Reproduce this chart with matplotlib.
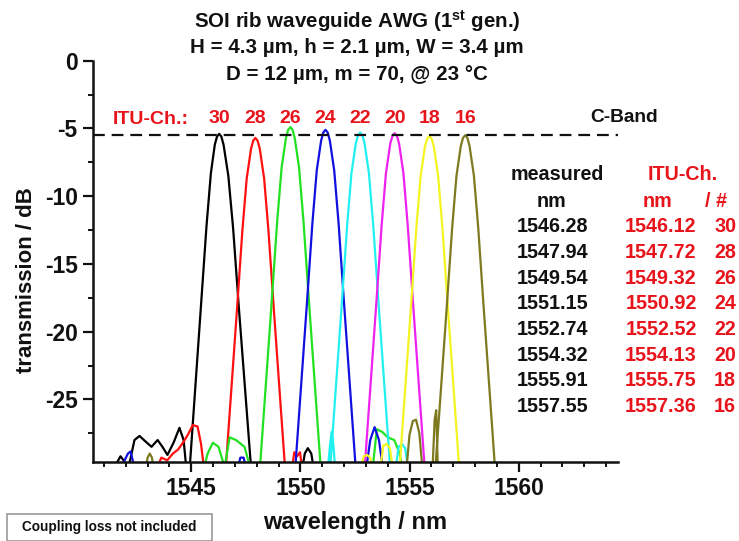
import matplotlib
matplotlib.use("Agg")
import matplotlib.pyplot as plt
from matplotlib.ticker import MultipleLocator
from matplotlib.patches import Rectangle

plt.rcParams['font.family'] = ['Liberation Sans', 'DejaVu Sans']
plt.rcParams['font.weight'] = 'bold'
plt.rcParams['axes.unicode_minus'] = False
plt.rcParams['mathtext.fontset'] = 'custom'
plt.rcParams['mathtext.rm'] = 'Liberation Sans:bold'
plt.rcParams['mathtext.bf'] = 'Liberation Sans:bold'
plt.rcParams['mathtext.it'] = 'Liberation Sans:bold'

W, H = 739, 541

# ---- measured AWG channel spectra (wavelength in nm, transmission in dB) ----
ch30_wl = [1541.5, 1541.62, 1541.76, 1541.9, 1542.05, 1542.2, 1542.4, 1542.63, 1542.9, 1543.18,
           1543.46, 1543.68, 1543.91, 1544.19, 1544.46, 1544.65, 1544.8,
           1544.95, 1545.2, 1545.45, 1545.7, 1545.9, 1546.08, 1546.18, 1546.28, 1546.38, 1546.48,
           1546.7, 1546.92, 1547.18, 1547.45, 1547.72, 1547.9,
           1550.05, 1550.2, 1550.34, 1550.5, 1550.65]
ch30_db = [-30.2, -29.6, -29.2, -29.5, -30.2, -29.5, -28.0, -27.7, -28.1, -28.5,
           -28.0, -28.5, -29.1, -28.2, -27.1, -28.0, -30.5,
           -29.6, -23.8, -18.0, -12.2, -8.3, -6.2, -5.6, -5.4, -5.6, -6.2,
           -8.5, -12.4, -18.2, -23.9, -29.6, -33.0,
           -30.5, -29.0, -28.6, -29.0, -30.5]

ch28_wl = [1543.4, 1543.63, 1543.9, 1544.16, 1544.4, 1544.62, 1544.85, 1545.07, 1545.29, 1545.45, 1545.6,
           1546.44, 1546.59, 1546.84, 1547.09, 1547.34, 1547.54, 1547.74, 1547.84, 1547.94, 1548.04,
           1548.14, 1548.34, 1548.54, 1548.79, 1549.04, 1549.29, 1549.44,
           1549.6, 1549.72, 1549.85, 1549.98, 1550.1]
ch28_db = [-30.2, -29.3, -29.5, -29.0, -28.7, -28.2, -27.6, -26.9, -27.0, -28.3, -30.3,
           -33.4, -29.9, -24.2, -18.5, -12.6, -8.7, -6.5, -5.9, -5.7, -5.9,
           -6.5, -8.7, -12.6, -18.5, -24.2, -29.9, -33.4,
           -30.3, -28.9, -29.2, -28.9, -30.3]

ch26_wl = [1545.55, 1545.75, 1545.99, 1546.25, 1546.53, 1546.76, 1547.05, 1547.44, 1547.75,
           1548.04, 1548.19, 1548.44, 1548.69, 1548.94, 1549.14, 1549.34, 1549.44, 1549.54, 1549.64,
           1549.74, 1549.94, 1550.14, 1550.39, 1550.64, 1550.89, 1551.04,
           1553.3, 1553.5, 1553.75, 1554.0, 1554.3, 1554.55, 1554.7]
ch26_db = [-30.3, -29.0, -28.2, -28.5, -30.0, -27.8, -28.0, -28.5, -30.3,
           -32.6, -29.1, -23.4, -17.7, -11.8, -7.9, -5.7, -5.1, -4.9, -5.1,
           -5.7, -7.9, -11.8, -17.7, -23.4, -29.1, -32.6,
           -30.3, -27.2, -27.4, -27.8, -28.0, -29.0, -30.3]

ch24_wl = [1541.85, 1541.95, 1542.1, 1542.22, 1542.35, 1542.45,
           1547.1, 1547.25, 1547.4, 1547.55,
           1549.65, 1549.8, 1550.05, 1550.3, 1550.55, 1550.75, 1550.95, 1551.05, 1551.15, 1551.25,
           1551.35, 1551.55, 1551.75, 1552.0, 1552.25, 1552.5, 1552.65,
           1553.0, 1553.2, 1553.4, 1553.6, 1553.8]
ch24_db = [-30.3, -29.5, -29.0, -28.85, -29.7, -30.3,
           -30.3, -29.3, -29.3, -30.3,
           -32.8, -29.3, -23.6, -17.9, -12.0, -8.1, -5.9, -5.3, -5.1, -5.3,
           -5.9, -8.1, -12.0, -17.9, -23.6, -29.3, -32.8,
           -30.3, -28.0, -27.05, -28.0, -30.3]

ch22_wl = [1551.25, 1551.35, 1551.43, 1551.52, 1551.6,
           1551.24, 1551.39, 1551.64, 1551.89, 1552.14, 1552.34, 1552.54, 1552.64, 1552.74, 1552.84,
           1552.94, 1553.14, 1553.34, 1553.59, 1553.84, 1554.09, 1554.24,
           1554.35, 1554.5, 1554.65, 1554.8, 1554.95]
ch22_db = [-30.3, -28.5, -27.4, -28.5, -30.3,
           -33.0, -29.5, -23.8, -18.1, -12.2, -8.3, -6.1, -5.5, -5.3, -5.5,
           -6.1, -8.3, -12.2, -18.1, -23.8, -29.5, -33.0,
           -30.3, -28.5, -28.3, -28.6, -30.3]

ch20_wl = [1552.82, 1552.97, 1553.22, 1553.47, 1553.72, 1553.92, 1554.12, 1554.22, 1554.32, 1554.42,
           1554.52, 1554.72, 1554.92, 1555.17, 1555.42, 1555.67, 1555.82]
ch20_db = [-33.0, -29.5, -23.8, -18.1, -12.2, -8.3, -6.1, -5.55, -5.35, -5.55,
           -6.1, -8.3, -12.2, -18.1, -23.8, -29.5, -33.0]

ch18_wl = [1552.75, 1552.9, 1553.05, 1553.2, 1553.3,
           1553.65, 1553.8, 1553.95, 1554.1, 1554.25,
           1554.41, 1554.56, 1554.81, 1555.06, 1555.31, 1555.51, 1555.71, 1555.81, 1555.91, 1556.01,
           1556.11, 1556.31, 1556.51, 1556.76, 1557.01, 1557.26, 1557.41]
ch18_db = [-30.3, -29.2, -29.1, -29.3, -30.3,
           -30.3, -28.4, -28.3, -28.6, -30.3,
           -33.2, -29.7, -24.0, -18.3, -12.4, -8.5, -6.3, -5.75, -5.55, -5.75,
           -6.3, -8.5, -12.4, -18.3, -24.0, -29.7, -33.2]

ch16_wl = [1542.9, 1543.0, 1543.1, 1543.2, 1543.3,
           1554.85, 1555.0, 1555.15, 1555.3, 1555.45, 1555.6,
           1556.05, 1556.15, 1556.22, 1556.3,
           1556.05, 1556.2, 1556.45, 1556.7, 1556.95, 1557.15, 1557.35, 1557.45, 1557.55, 1557.65,
           1557.75, 1557.95, 1558.15, 1558.4, 1558.65, 1558.9, 1559.05]
ch16_db = [-30.3, -29.3, -29.0, -29.3, -30.3,
           -30.3, -27.6, -26.6, -26.5, -27.5, -30.3,
           -30.3, -26.5, -25.8, -30.3,
           -33.2, -29.7, -24.0, -18.3, -12.4, -8.5, -6.3, -5.7, -5.5, -5.7,
           -6.3, -8.5, -12.4, -18.3, -24.0, -29.7, -33.2]

channel_numbers = ["30", "28", "26", "24", "22", "20", "18", "16"]
measured_nm = ["1546.28", "1547.94", "1549.54", "1551.15", "1552.74", "1554.32", "1555.91", "1557.55"]
itu_nm = ["1546.12", "1547.72", "1549.32", "1550.92", "1552.52", "1554.13", "1555.75", "1557.36"]
peak_wl = [1546.28, 1547.94, 1549.54, 1551.15, 1552.74, 1554.32, 1555.91, 1557.55]

c_band_level = -5.5

spectra = [(ch30_wl, ch30_db, "#000000"),
           (ch28_wl, ch28_db, "#ff1010"),
           (ch26_wl, ch26_db, "#22e022"),
           (ch24_wl, ch24_db, "#1010e0"),
           (ch22_wl, ch22_db, "#20f0f0"),
           (ch20_wl, ch20_db, "#ee22ee"),
           (ch18_wl, ch18_db, "#f4f420"),
           (ch16_wl, ch16_db, "#7d7a20")]

RED = "#e8141c"
DARK = "#111111"

fig = plt.figure(figsize=(W / 100, H / 100), dpi=100)
ax = fig.add_axes([93 / W, 1 - 461.7 / H, (618 - 93) / W, (461.7 - 60.7) / H])

for wl, db, col in spectra:
    ax.plot(wl, db, color=col, lw=1.6, solid_joinstyle='round', clip_on=True)

ax.axhline(c_band_level, color=DARK, lw=1.6, ls=(0, (5.3, 3.1)))

ax.set_xlim(1540.5, 1564.55)
ax.set_ylim(-29.6, 0)
ax.xaxis.set_major_locator(MultipleLocator(5))
ax.xaxis.set_minor_locator(MultipleLocator(1))
ax.yaxis.set_major_locator(MultipleLocator(5))
ax.yaxis.set_minor_locator(MultipleLocator(2.5))
for s in ("top", "right"):
    ax.spines[s].set_visible(False)
for s in ("left", "bottom"):
    ax.spines[s].set_linewidth(1.8)
    ax.spines[s].set_color(DARK)
ax.tick_params(which='major', length=7, width=1.6, color=DARK, labelsize=16.5, pad=4)
ax.tick_params(which='minor', length=3.5, width=1.4, color=DARK)
ax.set_xticks([1545, 1550, 1555, 1560])
ax.set_yticks([0, -5, -10, -15, -20, -25])
for lab in ax.get_xticklabels() + ax.get_yticklabels():
    lab.set_fontweight('bold')
    lab.set_color(DARK)


def px(x, y):
    return x / W, 1 - y / H


# axis titles
fig.text(*px(355.5, 522), "wavelength / nm", ha='center', va='center', fontsize=17,
         fontweight='bold', color=DARK)
fig.text(*px(27, 280), "transmission / dB", ha='center', va='center', rotation=90,
         fontsize=16, fontweight='bold', color=DARK)

# title block
title_lines = [r"SOI rib waveguide AWG (1$^{\mathrm{st}}$ gen.)",
               "H = 4.3 µm, h = 2.1 µm, W = 3.4 µm",
               "D = 12 µm, m = 70, @ 23 °C"]
for i, t in enumerate(title_lines):
    fig.text(*px(357, 21 + 26.8 * i), t, ha='center', va='center', fontsize=14.8,
             fontweight='bold', color=DARK)

# channel labels above the peaks
fig.text(*px(113, 119), "ITU-Ch.:", ha='left', va='center', fontsize=14,
         fontweight='bold', color=RED)
for wl, n in zip(peak_wl, channel_numbers):
    ax.text(wl, -4.3, n, ha='center', va='center', fontsize=14, fontweight='bold',
            color=RED)
fig.text(*px(624.5, 117), "C-Band", ha='center', va='center', fontsize=13.8,
         fontweight='bold', color=DARK)

# table of measured vs ITU wavelengths
TS = 14.2
fig.text(*px(557, 175), "measured", ha='center', va='center', fontsize=TS,
         fontweight='bold', color=DARK)
fig.text(*px(552, 201.7), "nm", ha='center', va='center', fontsize=TS,
         fontweight='bold', color=DARK)
fig.text(*px(683, 175), "ITU-Ch.", ha='center', va='center', fontsize=TS,
         fontweight='bold', color=RED)
fig.text(*px(657, 201.7), "nm", ha='center', va='center', fontsize=TS,
         fontweight='bold', color=RED)
fig.text(*px(716, 201.7), "/ #", ha='center', va='center', fontsize=TS,
         fontweight='bold', color=RED)
for i, (m, itu, n) in enumerate(zip(measured_nm, itu_nm, channel_numbers)):
    y = 226.7 + 25.68 * i
    fig.text(*px(552.5, y), m, ha='center', va='center', fontsize=TS,
             fontweight='bold', color=DARK)
    fig.text(*px(661, y), itu, ha='center', va='center', fontsize=TS,
             fontweight='bold', color=RED)
    fig.text(*px(725, y), n, ha='center', va='center', fontsize=TS,
             fontweight='bold', color=RED)

# note box
x0, y0 = px(7.3, 540.7)
x1, y1 = px(211.7, 514)
fig.patches.append(Rectangle((x0, y0), x1 - x0, y1 - y0, transform=fig.transFigure,
                             fc='white', ec='#9a9a9a', lw=1.2))
fig.text(*px(109, 527.5), "Coupling loss not included", ha='center', va='center',
         fontsize=9.8, fontweight='bold', color=DARK)

fig.savefig("out.png", dpi=100)
